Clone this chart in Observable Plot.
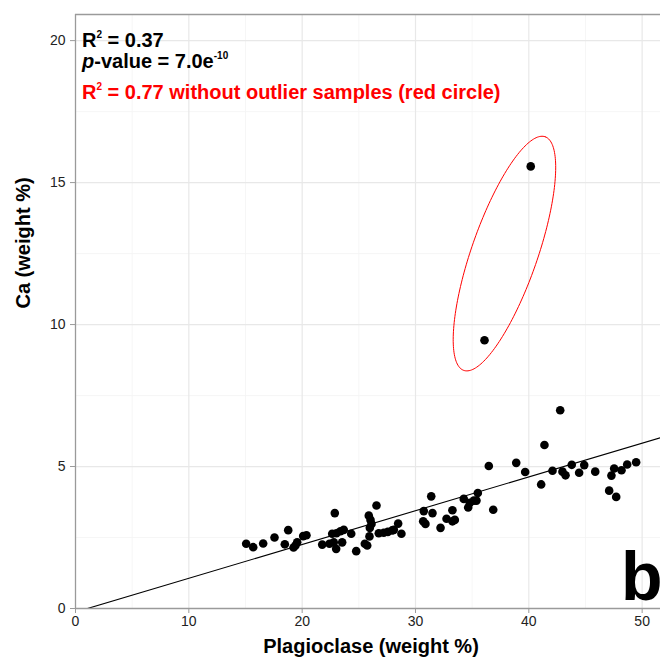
<!DOCTYPE html>
<html><head><meta charset="utf-8">
<script src="https://cdn.jsdelivr.net/npm/d3@7"></script>
<script src="https://cdn.jsdelivr.net/npm/@observablehq/plot@0.6"></script>
<style>body{margin:0;background:#fff} svg{display:block}</style>
</head><body><div id="chart"></div>
<script>
// Samples (weight %)
const plagioclase = [15.06,15.68,16.56,17.56,18.77,18.47,19.41,19.56,19.24,20.09,
  20.38,21.77,22.41,22.88,22.65,23.03,23.38,23.67,22.79,23.0,
  23.53,24.33,24.77,25.53,25.74,26.56,25.88,26.03,26.12,25.97,
  25.94,26.76,27.2,27.56,27.94,28.09,28.47,28.76,30.73,31.5,
  31.39,30.68,30.88,32.21,32.74,33.26,33.26,33.47,34.26,34.65,
  34.79,35.15,35.38,35.5,36.47,36.86,38.89,39.68,41.38,41.09,
  42.77,42.09,42.97,43.24,43.79,44.44,44.89,45.86,47.09,47.29,
  47.53,47.71,48.18,48.68,49.47];
const calcium = [2.28,2.16,2.29,2.50,2.76,2.26,2.22,2.33,2.15,2.55,
  2.58,2.25,2.28,3.36,2.63,2.65,2.72,2.77,2.33,2.10,
  2.33,2.63,2.02,2.28,2.22,3.63,3.27,3.12,2.98,2.84,
  2.54,2.65,2.67,2.70,2.75,2.77,2.99,2.63,3.43,3.36,
  3.95,3.07,2.98,2.84,3.16,3.46,3.07,3.12,3.86,3.56,
  3.72,3.80,3.80,4.07,5.02,3.48,5.13,4.81,5.76,4.37,
  6.98,4.85,4.82,4.69,5.06,4.78,5.05,4.82,4.15,4.68,
  4.93,3.93,4.87,5.07,5.15];
const outlierPlagioclase = [40.17, 36.09];
const outlierCalcium = [15.57, 9.45];

const xTicks = [0, 10, 20, 30, 40, 50];
const yTicks = [0, 5, 10, 15, 20];
const xMinor = [5, 15, 25, 35, 45];
const yMinor = [2.5, 7.5, 12.5, 17.5];

const fitIntercept = -0.126;
const fitSlope = 0.119;

// outlier ellipse (centre in data units, semi-axes in px, angle in degrees)
const ellipseCenter = [37.85, 12.5];
const ellipseAxes = [123.7, 33];
const ellipseAngle = 70.8;

const labelR2 = "0.37", labelP = "7.0e", labelPexp = "-10", labelR2b = "0.77 without outlier samples (red circle)";

// ---------------------------------------------------------------
const W = 660, H = 666, mL = 75, mR = 0, mT = 14, mB = 58;
const xDomain = [0, 51.62], yDomain = [0, 20.92];
const kx = (W - mL - mR) / (xDomain[1] - xDomain[0]);
const ky = (H - mT - mB) / (yDomain[1] - yDomain[0]);

const points = plagioclase.map((p, i) => ({x: p, y: calcium[i]}))
  .concat(outlierPlagioclase.map((p, i) => ({x: p, y: outlierCalcium[i]})));

const fitLine = xDomain.map(x => ({x, y: fitIntercept + fitSlope * x}));

const th = ellipseAngle * Math.PI / 180;
const ellipse = d3.range(0, 201).map(i => {
  const t = i / 200 * 2 * Math.PI;
  const a = ellipseAxes[0], b = ellipseAxes[1];
  return {
    x: ellipseCenter[0] + (a * Math.cos(th) * Math.cos(t) - b * Math.sin(th) * Math.sin(t)) / kx,
    y: ellipseCenter[1] + (a * Math.sin(th) * Math.cos(t) + b * Math.cos(th) * Math.sin(t)) / ky
  };
});

const font = "'Liberation Sans', Arial, Helvetica, sans-serif";
const border = "#9a9a9a";

const plot = Plot.plot({
  width: W, height: H,
  marginLeft: mL, marginRight: mR, marginTop: mT, marginBottom: mB,
  x: {domain: xDomain},
  y: {domain: yDomain},
  style: {fontFamily: font, background: "white", overflow: "hidden"},
  marks: [
    Plot.ruleX(xMinor, {stroke: "#f4f4f4", strokeWidth: 0.8}),
    Plot.ruleY(yMinor, {stroke: "#f4f4f4", strokeWidth: 0.8}),
    Plot.ruleX(xTicks.filter(d => d > 0), {stroke: "#e8e8e8", strokeWidth: 1.2}),
    Plot.ruleY(yTicks.filter(d => d > 0), {stroke: "#e8e8e8", strokeWidth: 1.2}),
    Plot.line(fitLine, {x: "x", y: "y", stroke: "black", strokeWidth: 1.1, clip: true}),
    Plot.dot(points, {x: "x", y: "y", r: 4.3, fill: "black", stroke: "none"}),
    Plot.line(ellipse, {x: "x", y: "y", stroke: "red", strokeWidth: 1}),
    Plot.ruleX([xDomain[0]], {stroke: border, strokeWidth: 1.3}),
    Plot.ruleY([yDomain[1]], {stroke: border, strokeWidth: 1.3}),
    Plot.ruleY([yDomain[0]], {stroke: border, strokeWidth: 1.3}),
    Plot.axisX({ticks: xTicks, tickSize: 5, tickPadding: 3, fontSize: 14, stroke: border, fill: "#222", label: null}),
    Plot.axisY({ticks: yTicks, tickSize: 5, tickPadding: 5, fontSize: 14, stroke: border, fill: "#222", label: null}),
    Plot.text(["Plagioclase (weight %)"], {frameAnchor: "bottom", dx: 3, dy: 44.5, fontSize: 20, fontWeight: "bold", fill: "black"}),
    Plot.text(["Ca (weight %)"], {frameAnchor: "left", dx: -52, dy: -3, rotate: -90, fontSize: 20, fontWeight: "bold", fill: "black"})
  ]
});
document.getElementById("chart").appendChild(plot);

// annotations with superscripts
const svg = d3.select(plot);
const ann = svg.append("g").attr("font-family", font).attr("font-weight", "bold")
  .attr("font-size", 20).attr("text-anchor", "start");
const t1 = ann.append("text").attr("x", 82).attr("y", 47).attr("fill", "black");
t1.append("tspan").text("R");
t1.append("tspan").attr("font-size", 10).attr("dy", -9).text("2");
t1.append("tspan").attr("dy", 9).text(" = " + labelR2);
const t2 = ann.append("text").attr("x", 82).attr("y", 68).attr("fill", "black");
t2.append("tspan").attr("font-style", "italic").text("p");
t2.append("tspan").text("-value = " + labelP);
t2.append("tspan").attr("font-size", 10).attr("dy", -9).text(labelPexp);
const t3 = ann.append("text").attr("x", 82).attr("y", 99).attr("fill", "red");
t3.append("tspan").text("R");
t3.append("tspan").attr("font-size", 10).attr("dy", -9).text("2");
t3.append("tspan").attr("dy", 9).text(" = " + labelR2b);
svg.append("text").attr("x", 621).attr("y", 600).attr("font-family", font).attr("text-anchor", "start")
  .attr("font-weight", "bold").attr("font-size", 68).attr("fill", "black").text("b");
</script>
</body></html>
